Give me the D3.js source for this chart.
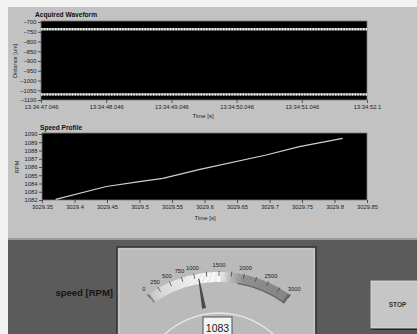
<!DOCTYPE html>
<html><head><meta charset="utf-8">
<script src="https://cdn.jsdelivr.net/npm/d3@7"></script>
<style>
html,body{margin:0;padding:0;background:#f2f2f2;}
svg{display:block;font-family:"Liberation Sans",Arial,sans-serif;}
</style></head>
<body>
<svg id="c" width="417" height="334"></svg>
<script>
// ---------- data ----------
const waveTimeLabels = ["13:34:47.046","13:34:48.046","13:34:49.046","13:34:50.046","13:34:51.046","13:34:52.1"];
const waveTimeTicks = [47.046, 48.046, 49.046, 50.046, 51.046, 52.046];
const waveYTicks = [-700,-750,-800,-850,-900,-950,-1000,-1050,-1100];
const waveUpperTime = [47.046, 52.046];
const waveUpperValue = [-737, -737];
const waveLowerTime = [47.046, 52.046];
const waveLowerValue = [-1071, -1071];

const speedTime = [3029.371, 3029.449, 3029.50, 3029.536, 3029.593, 3029.695, 3029.746, 3029.8125];
const speedRPM  = [1082.08, 1083.64, 1084.22, 1084.63, 1085.72, 1087.45, 1088.46, 1089.48];
const speedXTicks = [3029.35,3029.4,3029.45,3029.5,3029.55,3029.6,3029.65,3029.7,3029.75,3029.8,3029.85];
const speedYTicks = [1082,1083,1084,1085,1086,1087,1088,1089,1090];

const gaugeLabels = [0,250,500,750,1000,1500,2000,2500,3000];
const gaugeMinorTicks = [1250,1750,2250,2750];
const gaugeValue = 1083;

// ---------- setup ----------
const svg = d3.select("#c");
svg.append("rect").attr("x",0).attr("y",0).attr("width",417).attr("height",334).attr("fill","#f2f2f2");
svg.append("rect").attr("x",8).attr("y",7).attr("width",409).attr("height",327).attr("fill","#c2c2c2");
svg.append("rect").attr("x",8).attr("y",238).attr("width",409).attr("height",96).attr("fill","#9a9a9a");
svg.append("rect").attr("x",8).attr("y",240).attr("width",409).attr("height",94).attr("fill","#5b5b5b");

const tickFont = 5.8;

function styleAxis(g){
  g.select(".domain").remove();
  g.selectAll(".tick line").attr("stroke","#333").attr("stroke-width",0.8);
  g.selectAll(".tick text").attr("fill","#222").attr("font-size",tickFont);
}

// ---------- waveform chart ----------
const w1 = {l:41, r:367, t:22, b:100};
const x1 = d3.scaleLinear().domain([47.046, 52.046]).range([w1.l, w1.r]);
const y1 = d3.scaleLinear().domain([-1100, -700]).range([w1.b, w1.t]);
svg.append("rect").attr("x",w1.l).attr("y",w1.t-1).attr("width",w1.r-w1.l).attr("height",w1.b-w1.t+1)
  .attr("fill","#000").attr("stroke","#7a7a7a").attr("stroke-width",0.8);

const line1 = d3.line().x(d=>x1(d[0])).y(d=>y1(d[1]));
[[waveUpperTime,waveUpperValue],[waveLowerTime,waveLowerValue]].forEach(([t,v])=>{
  const pts = t.map((d,i)=>[d,v[i]]);
  svg.append("path").attr("d",line1(pts)).attr("fill","none")
    .attr("stroke","#9a9a9a").attr("stroke-width",2.4);
  svg.append("path").attr("d",line1(pts)).attr("fill","none")
    .attr("stroke","#f0f0f0").attr("stroke-width",2.2).attr("stroke-dasharray","1.4,1.4");
});

svg.append("g").attr("transform",`translate(${w1.l},0)`)
  .call(d3.axisLeft(y1).tickValues(waveYTicks).tickSize(3).tickPadding(1.5).tickFormat(d3.format("d")))
  .call(styleAxis);
svg.append("g").attr("transform",`translate(0,${w1.b})`)
  .call(d3.axisBottom(x1).tickValues(waveTimeTicks).tickSize(3).tickPadding(2)
    .tickFormat((d,i)=>waveTimeLabels[i]))
  .call(styleAxis);

svg.append("text").attr("x",35).attr("y",17).attr("font-size",6.6).attr("font-weight","bold")
  .attr("fill","#111").text("Acquired Waveform");
svg.append("text").attr("x",203).attr("y",117.5).attr("text-anchor","middle").attr("font-size",6)
  .attr("fill","#222").text("Time [s]");
svg.append("text").attr("transform",`translate(16.5,${(w1.t+w1.b)/2}) rotate(-90)`).attr("text-anchor","middle")
  .attr("font-size",5.6).attr("fill","#222").text("Distance [um]");

// ---------- speed chart ----------
const w2 = {l:42, r:367, t:134, b:200};
const x2 = d3.scaleLinear().domain([3029.35, 3029.85]).range([w2.l, w2.r]);
const y2 = d3.scaleLinear().domain([1082, 1090]).range([w2.b, w2.t]);
svg.append("rect").attr("x",w2.l).attr("y",w2.t-1).attr("width",w2.r-w2.l).attr("height",w2.b-w2.t+1)
  .attr("fill","#000").attr("stroke","#7a7a7a").attr("stroke-width",0.8);
const line2 = d3.line().x(d=>x2(d[0])).y(d=>y2(d[1]));
svg.append("path").attr("d",line2(speedTime.map((d,i)=>[d,speedRPM[i]])))
  .attr("fill","none").attr("stroke","#d0d0d0").attr("stroke-width",1.2);

svg.append("g").attr("transform",`translate(${w2.l},0)`)
  .call(d3.axisLeft(y2).tickValues(speedYTicks).tickSize(3).tickPadding(1.5).tickFormat(d3.format("d")))
  .call(styleAxis);
svg.append("g").attr("transform",`translate(0,${w2.b})`)
  .call(d3.axisBottom(x2).tickValues(speedXTicks).tickSize(3).tickPadding(2).tickFormat(d=>String(+d.toFixed(2))))
  .call(styleAxis);

svg.append("text").attr("x",40).attr("y",130).attr("font-size",6.6).attr("font-weight","bold")
  .attr("fill","#111").text("Speed Profile");
svg.append("text").attr("x",205).attr("y",220).attr("text-anchor","middle").attr("font-size",6)
  .attr("fill","#222").text("Time [s]");
svg.append("text").attr("transform",`translate(19,${(w2.t+w2.b)/2}) rotate(-90)`).attr("text-anchor","middle")
  .attr("font-size",5.6).attr("fill","#222").text("RPM");

// ---------- bottom controls ----------
svg.append("text").attr("x",113).attr("y",296).attr("text-anchor","end").attr("font-size",9.5)
  .attr("font-weight","bold").attr("fill","#161616").text("speed [RPM]");

// gauge panel
svg.append("rect").attr("x",117).attr("y",247).attr("width",199).attr("height",100)
  .attr("fill","#bababa").attr("stroke","#333").attr("stroke-width",1.6);
svg.append("rect").attr("x",119).attr("y",249).attr("width",195).attr("height",100)
  .attr("fill","none").attr("stroke","#d4d4d4").attr("stroke-width",0.8);

const cx = 219, cy = 393;
const ang = d3.scaleLinear().domain([0,3000]).range([-36*Math.PI/180, 36*Math.PI/180]);
const bandColor = d3.scaleLinear()
  .domain([0,300,900,1500,1750,2000,3000])
  .range(["#c4c4c4","#dedede","#f4f4f4","#fbfbfb","#b4b4b4","#8a8a8a","#7e7e7e"]);
const g = svg.append("g").attr("transform",`translate(${cx},${cy})`);
const seg = d3.arc().innerRadius(111).outerRadius(121);
const stepsArr = d3.range(0,3000,25);
g.selectAll("path.band").data(stepsArr).join("path").attr("class","band")
  .attr("d",d=>seg({startAngle:ang(d),endAngle:ang(Math.min(d+26,3000))}))
  .attr("fill",d=>bandColor(d+12.5));
g.append("path").attr("d",d3.arc().innerRadius(110.5).outerRadius(111.8)({startAngle:ang(1900),endAngle:ang(3000)}))
  .attr("fill","#646464");
g.append("path").attr("d",d3.arc().innerRadius(110.5).outerRadius(121)({startAngle:ang(2950),endAngle:ang(3000)}))
  .attr("fill","#686868");
g.append("path").attr("d",d3.arc().innerRadius(111).outerRadius(121)({startAngle:ang(0),endAngle:ang(40)}))
  .attr("fill","#8c8c8c");

// ticks
function polar(r,v){const a=ang(v);return [r*Math.sin(a), -r*Math.cos(a)];}
gaugeLabels.concat(gaugeMinorTicks).forEach(v=>{
  const p1=polar(117,v), p2=polar(122,v);
  g.append("line").attr("x1",p1[0]).attr("y1",p1[1]).attr("x2",p2[0]).attr("y2",p2[1])
    .attr("stroke","#444").attr("stroke-width",0.8);
});
gaugeLabels.forEach(v=>{
  const p=polar(128,v);
  g.append("text").attr("x",p[0]).attr("y",p[1]+2).attr("text-anchor","middle")
    .attr("font-size",5.8).attr("fill","#222").text(v);
});

// inner decorative arc
const defs = svg.append("defs");
const lg = defs.append("linearGradient").attr("id","innerArc").attr("gradientUnits","userSpaceOnUse")
  .attr("x1",cx-60).attr("y1",0).attr("x2",cx+60).attr("y2",0);
lg.append("stop").attr("offset","0").attr("stop-color","#e8e8e8");
lg.append("stop").attr("offset","0.5").attr("stop-color","#d6d6d6");
lg.append("stop").attr("offset","1").attr("stop-color","#8e8e8e");
svg.append("path").attr("transform",`translate(${cx},${cy})`)
  .attr("d",d3.arc().innerRadius(79.3).outerRadius(80.7)({startAngle:-0.8,endAngle:0.8}))
  .attr("fill","url(#innerArc)");

// needle
(function(){
  const a = ang(gaugeValue);
  const tip = polar(116,gaugeValue), base = polar(86,gaugeValue);
  const nx = Math.cos(a), ny = Math.sin(a);
  const pts = [
    [tip[0]-nx*0.5, tip[1]-ny*0.5],[tip[0]+nx*0.5, tip[1]+ny*0.5],
    [base[0]+nx*2, base[1]+ny*2],[base[0]-nx*2, base[1]-ny*2]];
  g.append("path").attr("d","M"+pts.map(p=>p.join(",")).join("L")+"Z").attr("fill","#4a4a4a");
})();

// digital display
svg.append("rect").attr("x",203).attr("y",317).attr("width",29).attr("height",20)
  .attr("fill","#f3f3f3").attr("stroke","#505050").attr("stroke-width",1);
svg.append("text").attr("x",217.5).attr("y",331.5).attr("text-anchor","middle").attr("font-size",10.5)
  .attr("fill","#1a1a1a").text(gaugeValue);

// STOP button
svg.append("rect").attr("x",371).attr("y",281).attr("width",50).attr("height",49)
  .attr("fill","#2a2a2a");
svg.append("rect").attr("x",371).attr("y",281).attr("width",48).attr("height",47)
  .attr("fill","#c6c6c6").attr("stroke","#dedede").attr("stroke-width",0.8);
svg.append("text").attr("x",397.5).attr("y",306.5).attr("text-anchor","middle").attr("font-size",6.5)
  .attr("font-weight","bold").attr("fill","#333").text("STOP");
</script>
</body></html>
